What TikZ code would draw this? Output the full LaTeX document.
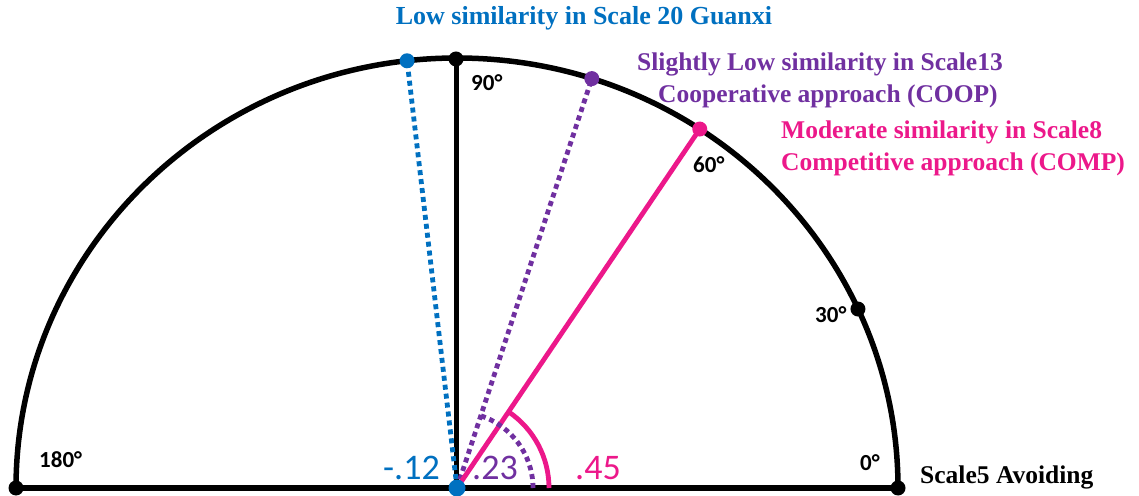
\documentclass[tikz,border=0pt]{standalone}
\usepackage{fontspec}
\usetikzlibrary{calc}
\setmainfont{Liberation Serif}
\newfontfamily\calib{Carlito}
\definecolor{cblue}{HTML}{0070C0}
\definecolor{cpurple}{HTML}{7030A0}
\definecolor{cpink}{RGB}{236,24,138}
\tikzset{
  dotnode/.style={circle,fill=#1,inner sep=0pt,minimum size=15pt},
  deglabel/.style={anchor=west,inner sep=0pt,font=\calib\bfseries\fontsize{23}{26}\selectfont},
  vallabel/.style={anchor=west,inner sep=0pt,text=#1,font=\calib\fontsize{36}{40}\selectfont},
  title/.style={inner sep=0pt,text=#1,font=\bfseries\fontsize{25.5}{30}\selectfont},
  dotline/.style={draw=#1,line width=4.8pt,dash pattern=on 5pt off 4pt},
}
\begin{document}
\begin{tikzpicture}[x=1pt,y=1pt]
\useasboundingbox (0,0) rectangle (1139,495);
\coordinate (C) at (457,7);
% outer half ellipse and base
\draw[line width=5.5pt] (C) ++(441,0) arc[start angle=0,end angle=180,x radius=441,y radius=430];
\node[dotnode=black] (P0) at (898,7) {};
\node[dotnode=black] (P180) at (16,7) {};
\node[dotnode=black] (P90) at (456,436) {};
\node[dotnode=black] (P30) at ($(C)+({441*cos(24.6)},{430*sin(24.6)})$) {};
\draw[line width=5.5pt] (P180.center) -- (P0.center);
\draw[line width=5pt] (456,7) -- (P90.center);
% data points
\node[dotnode=cblue] (PB) at ($(C)+({441*cos(96.5)},{430*sin(96.5)})$) {};
\node[dotnode=cpurple] (PP) at ($(C)+({441*cos(72.2)},{430*sin(72.2)})$) {};
\node[dotnode=cpink] (PK) at ($(C)+({441*cos(56.6)},{430*sin(56.6)})$) {};
\draw[dotline=cblue] (C) -- (PB.center);
\draw[dotline=cpurple] (C) -- (PP.center);
\draw[line width=4.8pt,cpink] (C) -- (PK.center);
% angle arcs
\draw[dotline=cpurple] (C) ++(76,0) arc[start angle=0,end angle=71.7,radius=76];
\draw[line width=4.8pt,cpink] (C) ++(92,0) arc[start angle=0,end angle=55.9,radius=92];
\node[dotnode=cblue,minimum size=17pt] (O) at (C) {};
% degree labels
\node[deglabel] (L90) at (471,412) {90°};
\node[deglabel] (L60) at (693,330) {60°};
\node[deglabel] (L30) at (815,180) {30°};
\node[deglabel] (L0) at (860,32) {0°};
\node[deglabel] (L180) at (39,35) {180°};
% values
\node[vallabel=cblue] (V1) at (383,27) {-.12};
\node[vallabel=cpurple] (V2) at (472,27) {.23};
\node[vallabel=cpink] (V3) at (575,27) {.45};
% titles
\node[title=cblue,font=\bfseries\fontsize{26}{30}\selectfont] (T1) at (584,477) {Low similarity in Scale 20 Guanxi};
\node[title=cpurple,anchor=west] (T2) at (637,431) {Slightly Low similarity in Scale13};
\node[title=cpurple,anchor=west] (T3) at (658,399) {Cooperative approach (COOP)};
\node[title=cpink,anchor=west] (T4) at (781,363) {Moderate similarity in Scale8};
\node[title=cpink,anchor=west] (T5) at (781,331) {Competitive approach (COMP)};
\node[title=black,anchor=west] (T6) at (920,18) {Scale5 Avoiding};
\end{tikzpicture}
\end{document}
